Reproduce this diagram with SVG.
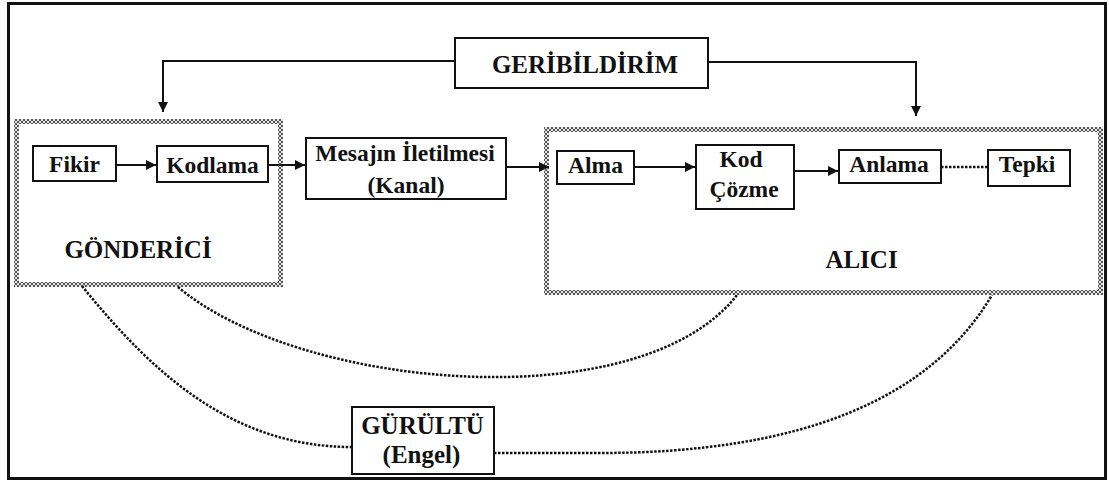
<svg xmlns="http://www.w3.org/2000/svg" width="1109" height="484" viewBox="0 0 1109 484">
<style>
.t{font-family:'Liberation Serif','Times New Roman',serif;font-weight:bold;fill:#111;text-anchor:middle}
.lbl{font-size:23.5px}
.big{font-size:25px}
.box{fill:#fff;stroke:#111;stroke-width:2}
.grp{fill:none;stroke:url(#hatch);stroke-width:5}
.arr{fill:none;stroke:#111;stroke-width:2}
.dot{fill:none;stroke:#111;stroke-width:2.5;stroke-dasharray:2.5 1.5}
</style>
<defs>
<pattern id="hatch" width="4" height="4" patternUnits="userSpaceOnUse">
<rect width="4" height="4" fill="#e6e6e6"/>
<path d="M0,0 L4,4 M4,0 L0,4" stroke="#555" stroke-width="1"/>
</pattern>
<marker id="ah" viewBox="0 0 10 10" refX="10" refY="5" markerWidth="10" markerHeight="10" markerUnits="userSpaceOnUse" orient="auto">
<path d="M0,0 L10,5 L0,10 Z" fill="#111"/>
</marker>
</defs>
<rect x="0" y="0" width="1109" height="484" fill="#fff"/>
<rect x="8.5" y="3.5" width="1097" height="475" fill="none" stroke="#111" stroke-width="3"/>

<g id="gonderici">
<rect class="grp" x="16.5" y="121.5" width="264" height="163"/>
<text class="t big" x="138" y="258">GÖNDERİCİ</text>
</g>
<g id="alici">
<rect class="grp" x="546.5" y="129.5" width="554" height="163"/>
<text class="t big" x="861.5" y="268">ALICI</text>
</g>

<g id="connectors">
<path class="arr" d="M455,61 H163 V112" marker-end="url(#ah)"/>
<path class="arr" d="M708,62 H916 V116" marker-end="url(#ah)"/>
<path class="arr" d="M116,165 H156" marker-end="url(#ah)"/>
<path class="arr" d="M268,165 H305" marker-end="url(#ah)"/>
<path class="arr" d="M506,167 H549" marker-end="url(#ah)"/>
<path class="arr" d="M634,167 H695" marker-end="url(#ah)"/>
<path class="arr" d="M794,171 H838" marker-end="url(#ah)"/>
<path class="dot" d="M941,167 H988"/>
<path class="dot" d="M82,286 C150,370 230,447 352,447"/>
<path class="dot" d="M178,287 C300,390 640,420 737,295"/>
<path class="dot" d="M494,453 L600,453 C800,453 930,400 992,295"/>
</g>

<g id="geribildirim">
<rect class="box" x="455" y="38" width="253" height="50"/>
<text class="t big" x="585" y="73">GERİBİLDİRİM</text>
</g>
<g id="fikir">
<rect class="box" x="33" y="146" width="83" height="35"/>
<text class="t lbl" x="74.5" y="172">Fikir</text>
</g>
<g id="kodlama">
<rect class="box" x="157" y="146" width="111" height="36"/>
<text class="t lbl" x="212.5" y="172.5">Kodlama</text>
</g>
<g id="mesajin">
<rect class="box" x="306" y="138" width="200" height="61"/>
<text class="t lbl" x="405" y="161">Mesajın İletilmesi</text>
<text class="t lbl" x="406" y="193">(Kanal)</text>
</g>
<g id="alma">
<rect class="box" x="557" y="151" width="77" height="33"/>
<text class="t lbl" x="595.5" y="173">Alma</text>
</g>
<g id="kodcozme">
<rect class="box" x="696" y="145" width="98" height="64"/>
<text class="t lbl" x="741" y="167">Kod</text>
<text class="t lbl" x="744" y="197">Çözme</text>
</g>
<g id="anlama">
<rect class="box" x="839" y="150" width="102" height="33"/>
<text class="t lbl" x="889" y="172">Anlama</text>
</g>
<g id="tepki">
<rect class="box" x="988" y="150" width="82" height="36"/>
<text class="t lbl" x="1027" y="172">Tepki</text>
</g>
<g id="gurultu">
<rect class="box" x="352" y="407" width="142" height="67"/>
<text class="t big" x="422.5" y="434">GÜRÜLTÜ</text>
<text class="t big" x="421.5" y="463">(Engel)</text>
</g>
</svg>
